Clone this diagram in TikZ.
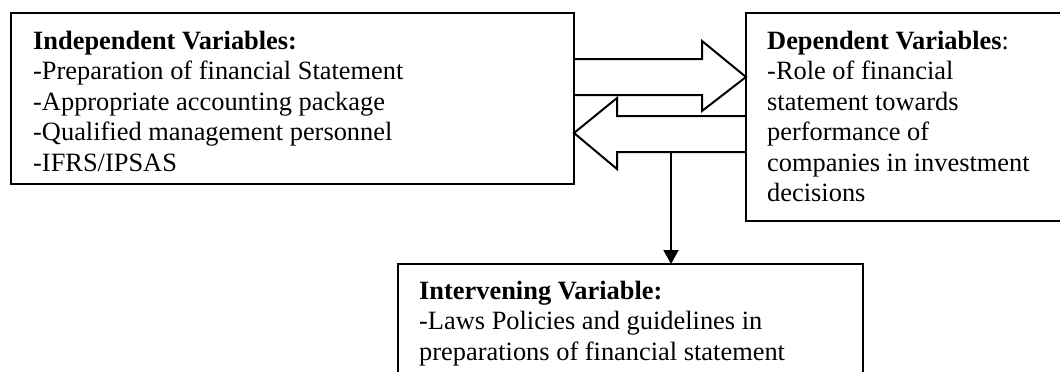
\documentclass[tikz,border=0pt]{standalone}
\usepackage{fontspec}
\setmainfont{Liberation Serif}
\usetikzlibrary{calc,arrows.meta}

\tikzset{
  varbox/.style={draw, line width=2pt, rectangle, anchor=north west, inner sep=0pt, outer sep=0pt},
  vartext/.style={anchor=north west, inner sep=0pt, align=left, font=\fontsize{26.4}{30.4}\selectfont},
  fatarrow/.style={draw, line width=2pt, line join=miter},
}

\begin{document}
\begin{tikzpicture}[x=1pt,y=-1pt]
  \useasboundingbox (0,0) rectangle (1060,372);

  % the three boxes
  \node[varbox, minimum width=563pt, minimum height=171pt] (indep) at (11,13) {};
  \node[varbox, minimum width=340pt, minimum height=208pt] (dep) at (746,13) {};
  \node[varbox, minimum width=465pt, minimum height=130pt] (inter) at (398,264) {};

  \node[vartext] (indeptext) at ($(indep.north west)+(22,18)$) {\textbf{Independent Variables:}\\
    -Preparation of financial Statement\\
    -Appropriate accounting package\\
    -Qualified management personnel\\
    -IFRS/IPSAS};
  \node[vartext] (deptext) at ($(dep.north west)+(21,18)$) {\textbf{Dependent Variables}:\\
    -Role of financial\\
    statement towards\\
    performance of\\
    companies in investment\\
    decisions};
  \node[vartext] (intertext) at ($(inter.north west)+(21,17)$) {\textbf{Intervening Variable:}\\
    -Laws Policies and guidelines in\\
    preparations of financial statement};

  % block arrows between the boxes
  \draw[fatarrow] ($(indep.north east)+(0,46)$) -- ++(128,0) -- ++(0,-18)
    -- ($(dep.north west)+(0,64)$) -- ++(-44,34) -- ++(0,-16)
    -- ($(indep.north east)+(0,82)$);
  \draw[fatarrow] ($(dep.north west)+(0,103)$) -- ++(-129,0) -- ++(0,-18)
    -- ($(indep.north east)+(0,120)$) -- ++(43,36) -- ++(0,-17)
    -- ($(dep.north west)+(0,139)$);

  % down to the intervening variable
  \coordinate (drop) at ($(dep.north west)+(-75,139)$);
  \draw[line width=2pt, -{Triangle[width=15pt,length=14pt]}] (drop) -- (drop |- inter.north);
\end{tikzpicture}
\end{document}
